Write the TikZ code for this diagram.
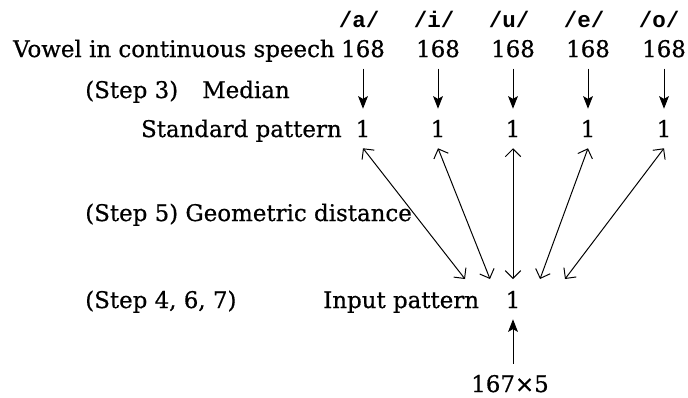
\documentclass[tikz,border=0pt]{standalone}
\usepackage{fontspec}
\setmainfont{DejaVu Serif}[FakeBold=0.6]
\newfontfamily\vowelfont{Liberation Mono}
\usetikzlibrary{arrows.meta}

\tikzset{
    txt/.style={inner sep=0pt, font=\fontsize{16.3}{20}\selectfont},
    num/.style={txt, outer sep=8pt},
    vowel/.style={inner sep=0pt, font=\fontsize{16}{19}\vowelfont\bfseries},
    down/.style={-{Stealth[length=9pt, width=7pt, inset=2pt]}, line width=0.7pt},
    both/.style={{Straight Barb[length=5.5pt, width=11pt]}-{Straight Barb[length=5.5pt, width=11pt]}, line width=0.7pt},
}

\begin{document}
\begin{tikzpicture}[x=0.025cm, y=-0.025cm]
    \useasboundingbox (0,0) rectangle (688,397);

    % Row 0: vowel labels
    \node[vowel, anchor=base] (la) at (359,27) {/a/};
    \node[vowel, anchor=base] (li) at (434,27) {/i/};
    \node[vowel, anchor=base] (lu) at (509,27) {/u/};
    \node[vowel, anchor=base] (le) at (584,27) {/e/};
    \node[vowel, anchor=base] (lo) at (659,27) {/o/};

    % Row 1: vowel in continuous speech
    \node[txt, anchor=base east] (speech) at (335,57) {Vowel in continuous speech};
    \node[num, anchor=base] (va) at (363,57) {168};
    \node[num, anchor=base] (vi) at (438,57) {168};
    \node[num, anchor=base] (vu) at (513,57) {168};
    \node[num, anchor=base] (ve) at (588,57) {168};
    \node[num, anchor=base] (vo) at (664,57) {168};

    % Row 2: median
    \node[txt, anchor=base west] (step3) at (85,98) {(Step 3)};
    \node[txt, anchor=base east] (median) at (290,98) {Median};

    % Row 3: standard pattern
    \node[txt, anchor=base east] (standard) at (342,137) {Standard pattern};
    \node[num, anchor=base] (sa) at (363,137) {1};
    \node[num, anchor=base] (si) at (438,137) {1};
    \node[num, anchor=base] (su) at (513,137) {1};
    \node[num, anchor=base] (se) at (588,137) {1};
    \node[num, anchor=base] (so) at (664,137) {1};

    \draw[down] (va) -- (sa);
    \draw[down] (vi) -- (si);
    \draw[down] (vu) -- (su);
    \draw[down] (ve) -- (se);
    \draw[down] (vo) -- (so);

    % Row 4: geometric distance
    \node[txt, anchor=base west] (step5) at (85,221) {(Step 5) Geometric distance};

    % Row 5: input pattern
    \node[txt, anchor=base west] (step4) at (85,308) {(Step 4, 6, 7)};
    \node[txt, anchor=base west] (input) at (323,308) {Input pattern};
    \node[num, anchor=base] (in) at (513,308) {1};

    \coordinate (ta) at (465,279);
    \coordinate (ti) at (490,279);
    \coordinate (tu) at (513,279);
    \coordinate (te) at (540,279);
    \coordinate (to) at (565,279);

    \draw[both] (sa.south) -- (ta);
    \draw[both] (si.south) -- (ti);
    \draw[both] (su.south) -- (tu);
    \draw[both] (se.south) -- (te);
    \draw[both] (so.south) -- (to);

    % Row 6: input frames
    \node[num, anchor=base] (frames) at (510,392) {167×5};
    \draw[down] (frames.north -| in) -- (in);
\end{tikzpicture}
\end{document}
